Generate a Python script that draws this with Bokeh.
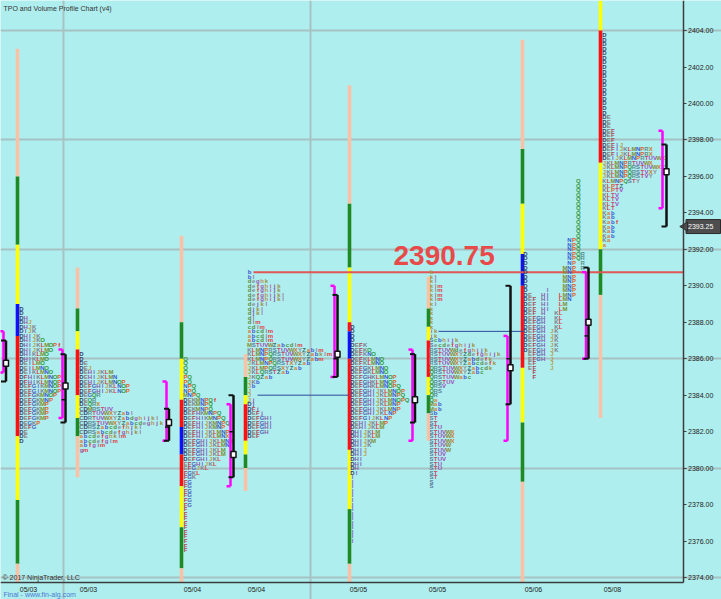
from bokeh.plotting import figure
from bokeh.models import Range1d, FixedTicker, Label, ColumnDataSource, PrintfTickFormatter, LinearAxis
from bokeh.core.properties import value
from bokeh.embed import file_html
from bokeh.resources import INLINE

# ---------------- axis data ----------------
y_ticks = [2374, 2376, 2378, 2380, 2382, 2384, 2386, 2388, 2390, 2392, 2394, 2396, 2398, 2400, 2402, 2404]
y_grid_ticks = [2374, 2380, 2386, 2392, 2398, 2404]
date_pos = [28, 88, 192, 256, 358, 437, 533, 612]
date_labels = ["05/03", "05/03", "05/04", "05/04", "05/05", "05/05", "05/06", "05/08"]
day_lines = [63, 310]
last_price = 2393.25
level_price = 2390.75
level_start = 253

# ---------------- session range bars ----------------
bar_x = [17, 77, 181, 245, 349, 428, 522, 600]
bar_levels = [
    [2403.0, 2396.0, 2392.25, 2389.0, 2387.25, 2381.75, 2378.25, 2374.75, 2373.5],
    [2391.0, 2388.75, 2387.5, 2386.5, 2384.0, 2382.75, 2381.75, 2379.5],
    [2392.75, 2388.0, 2386.0, 2383.75, 2382.25, 2380.75, 2379.0, 2376.75, 2374.5, 2373.5],
    [2386.25, 2385.0, 2384.0, 2383.5, 2381.5, 2380.75, 2380.0, 2378.75],
    [2401.0, 2394.5, 2391.0, 2388.0, 2387.5, 2386.0, 2381.0, 2377.75, 2374.75, 2373.5],
    [2390.5, 2388.75, 2387.75, 2387.0, 2385.0, 2384.0, 2383.0, 2381.5],
    [2403.5, 2397.5, 2394.5, 2391.75, 2390.0, 2385.5, 2382.5, 2379.25, 2373.5],
    [2405.75, 2404.0, 2396.75, 2392.0, 2389.5, 2382.75],
]
bar_codes = ["PGYBRYGP", "PGYRYGP", "PGYRBRYGP", "PGYRYGP", "PGYRBRYGP", "PGYRYGP", "PGYBRYGP", "YRYGP"]

# ---------------- value area / IB brackets and POC ----------------
va_x = [3, 62, 166, 230, 334, 412, 507, 585.5, 662]
va_hi = [2387.5, 2386.5, 2384.75, 2383.5, 2390.0, 2386.5, 2387.25, 2390.75, 2398.5]
va_lo = [2385.25, 2382.75, 2381.5, 2379.0, 2385.0, 2381.5, 2381.5, 2386.0, 2394.25]
ib_x = [5.5, 65, 168.5, 233, 337, 414.5, 510, 588, 666]
ib_hi = [2387.0, 2386.25, 2383.25, 2384.0, 2389.5, 2386.25, 2390.0, 2391.0, 2397.75]
ib_lo = [2384.75, 2382.5, 2381.5, 2379.5, 2385.0, 2382.5, 2383.5, 2386.0, 2393.25]
poc = [2385.75, 2384.5, 2382.5, 2380.75, 2386.25, 2383.75, 2385.5, 2388.0, 2396.25]
mark_session = [1, 2, 3, 4, 6, 7]
mark_price = [2383.75, 2382.25, 2382.0, 2386.0, 2386.0, 2387.25]

# naked POC lines
npoc_x0 = [257, 438]
npoc_x1 = [348, 523]
npoc_price = [2384.0, 2387.5]

# ---------------- TPO profiles (rows from top price downward) ----------------
tpo1_x, tpo1_top = 21, 2388.75
tpo1_rows = ["D", "D", "DH", "DHJ", "DHJK", "DIJK", "DHIJK", "DHIJKO", "DHIJKLMOPf", "DHIJKLMO",
             "DHIKLMO", "DHIKLMO", "DEILMO", "DEILMNO", "DEIKLMNO", "DFHIKLMNOP", "DFHIKLMNOP",
             "DEFGIKMNOP", "DEFGIKMNOP", "DEFGKMNOP", "DEFGKMNP", "DEFGKMP", "DEFGKMP", "DEFGKMP",
             "DEFGKMP", "DEGKP", "DEFG", "DE", "DE", "D"]

tpo2_x, tpo2_top = 81, 2386.25
tpo2_rows = ["D", "D", "DE", "DEJ", "DEHIJKLM", "DEHIJKLMN", "DEHIJKLMNOP", "DEFGHIJKLNOP",
             "DEFGHIJKLNOP", "DEGQR", "DEQR", "DEQRX", "CDMRSTUV", "CDRTUVWXYZabl",
             "CDRTUVWXYZabdghijkl", "CDRSTUVWXYZabcdeghjk", "CDRSZabcdefhjkl", "CDRSabcdefghjkl",
             "abcdefghklm", "abcdefglm", "abfgim", "gm"]

tpo3_x, tpo3_top = 185, 2386.0
tpo3_rows = ["Q", "Q", "Q", "Q", "PQ", "PQ", "NPQ", "NPQ", "MNPQ", "DEKMNPQf", "DEKMNPQ", "DEKMNPQ",
             "DEFHKMNPQ", "DEFHIKMNPQ", "DEFHIJKMNPQ", "DEFHIJKMNP", "DEFHIJKLMNP", "DEFHIJKLMNX",
             "DEFGHIJKLMNX", "DEFGHIJKLMN", "DEFGHIJKLM", "DEFGHIJKLM", "DEFGHIJKL", "EFGHIJKL",
             "EFGJKL", "FGKL", "FGK", "FG", "FG", "FG", "FG", "FG", "FG",
             "F", "F", "F", "F", "F", "F", "F", "F", "F", "F"]

tpo4_x, tpo4_top = 249, 2390.75
tpo4_rows = ["b", "bl", "deghk", "defghijk", "defghijk", "defghijkl", "defghijkl", "dejkl", "djkl",
             "djkl", "dl", "dlm", "cdlm", "abcdlm", "abcdlm", "abcdlm", "MSTUVWZabcdlm",
             "KLMNPRSTUVWXYZablm", "KLMNPQRSTUVWXYZabklm", "KLMNPQRSTUVWXYZabm", "JKLMNPQRSTXYZab",
             "JKLMPQRSXYZab", "JKLQRSTZab", "JKQZab", "JKb", "Jb", "J", "J", "Jj", "Dj", "DFj",
             "DEFj", "DEFGHI", "DEFGHI", "DEFGHI", "DEFGH", "DEF"]

tpo5_x, tpo5_top = 352, 2387.75
tpo5_rows = ["D", "D", "D", "D", "DEFK", "DEFKO", "DEFKNO", "DEFKLMNO", "DEFKLMNO", "DEFGKLMNO",
             "DEFGKLMNO", "DEFGHKLMNOP", "DEFGHKLMNOP", "DEFGHKLMNOPQ", "DEFGHIJKLMNOP",
             "DEFGHIJKLMNPQ", "DEFGHIJKLMNOPQ", "DEFGHIJKLMNP", "DEFGHIJKLMNP", "DEFGHIJKLNP",
             "DEFGIJKLNP", "DEHIJKLMP", "DEHIJKLM", "DHIJKLM", "DHIJKLM", "DHIJKM", "DHIJK", "DHIJ",
             "DHIJ", "DHI", "DHI", "DH", "DI", "I", "I", "I", "I", "I", "I", "I", "I", "I", "I", "I",
             "I", "I", "I", "I"]

tpo6_x, tpo6_top = 431, 2390.75
tpo6_rows = ["k", "kl", "kl", "klm", "klm", "klm", "klm", "kl", "k", "k", "k", "k", "k", "ik", "ik",
             "Scbhijk", "Secdefghijk", "RSTUVWdefghijk", "RSTUVWXYZdefghijk", "RSTUVWXYZabdefk",
             "RSTUVWXYZabcdefk", "QRSTUVWXYZabcdk", "QRSTUVWXYZabc", "QRSTUVWabc", "QRSTUV", "QRSV",
             "QRS", "QR", "Qa", "Mab", "Mab", "Sb", "ST", "ST", "STU", "STUVWX", "STUVWX", "STUVWX",
             "STUVW", "STUVW", "STUV", "STUV", "STU", "STU", "ST", "ST", "S", "S"]

# split profile: one column per period
tpo7_x = 525
tpo7_letters = ["D", "E", "F", "G", "H", "I", "J", "K", "L", "M", "N", "P", "Q", "R"]
tpo7_hi = [2391.75, 2389.5, 2389.25, 2388.25, 2389.5, 2389.75, 2387.5, 2388.5, 2389.5, 2391.0, 2392.5, 2392.5, 2395.75, 2391.75]
tpo7_lo = [2386.5, 2385.5, 2385.0, 2386.0, 2386.0, 2388.75, 2385.5, 2386.5, 2387.75, 2388.75, 2389.25, 2389.5, 2391.5, 2391.0]

tpo8_x, tpo8_top = 604, 2403.75
tpo8_rows = ["D", "D", "D", "D", "D", "D", "D", "D", "D", "D", "D", "D", "D", "D", "D", "D", "D", "D",
             "DE", "DE", "DE", "DEF", "DEF", "DEF", "DEFIJ", "DEFIJKLMNPRX", "DEFIJKLMNPRX",
             "DEIJKLMNPRTUVWX", "JKLMNPRTUVWX", "JKLMNPQRSTUVWXY", "JKLMNPQRSTVXY", "JKLMNPQRSTVY",
             "KLMNPQSTY", "KLPTZ", "KLPTV", "KLTV", "KLTV", "KLTV", "KLT", "Kab", "Kab", "Kabf", "Kab",
             "Kab", "Kab", "Ka", "a"]

# ---------------- styles / layout ----------------
TICK = 0.25
CELL = 4.2
CELL7 = 4.4
BG = "#AFEEEE"
PX = 18.23                 # pixels per price point
W, H = 721, 599
AXIS_X = 682.5             # right price axis position (x units = pixels)
y_hi = 2405.65
y_lo = y_hi - H / PX
AXIS_Y = y_hi - 582 / PX   # bottom time axis position
seg_colors = {"P": "#f9c2a6", "G": "#1f8a23", "Y": "#ffff00", "R": "#ff1010", "B": "#1010ff"}
letter_colors = {
    'A': '#5a6a7a', 'B': '#6a7a8a', 'C': '#5e6e7e', 'D': '#34406a', 'E': '#8c7a78', 'F': '#b0404e',
    'G': '#4a64b8', 'H': '#8a5aa8', 'I': '#7a6ac0', 'J': '#b8a050', 'K': '#7e8090', 'L': '#e03a3a',
    'M': '#7c9030', 'N': '#3a5ad8', 'O': '#2e9a3a', 'P': '#e0602a', 'Q': '#3a9a46', 'R': '#5e8e8e',
    'S': '#58789a', 'T': '#c84a6a', 'U': '#9050b0', 'V': '#a048c0', 'W': '#8a8a3a', 'X': '#d07a2a',
    'Y': '#8a8a8a', 'Z': '#3a7070',
    'a': '#d8803a', 'b': '#3a58d0', 'c': '#4a9a4a', 'd': '#5a8a3a', 'e': '#8a8a9a', 'f': '#e02a2a',
    'g': '#9a5ab0', 'h': '#c09050', 'i': '#b060a0', 'j': '#8a50b0', 'k': '#a09040', 'l': '#9a7a9a',
    'm': '#e04040',
}

p = figure(frame_width=W, frame_height=H, x_range=Range1d(0, W), y_range=Range1d(y_lo, y_hi),
           output_backend="svg", toolbar_location=None, x_axis_location=None, y_axis_location=None,
           min_border_left=0, min_border_top=0, min_border_right=0, min_border_bottom=0,
           background_fill_color=BG, border_fill_color=BG, outline_line_color=None)

# grids (stop at the axes)
p.ygrid.ticker = FixedTicker(ticks=y_grid_ticks)
p.ygrid.bounds = (0, AXIS_X)
p.xgrid.ticker = FixedTicker(ticks=day_lines)
p.xgrid.bounds = (AXIS_Y, y_hi)
p.grid.grid_line_color = "#a6c2c2"
p.grid.grid_line_width = 2

# price axis (right)
yax = LinearAxis(fixed_location=AXIS_X, ticker=FixedTicker(ticks=y_ticks),
                 formatter=PrintfTickFormatter(format="%.2f"), bounds=(AXIS_Y, y_hi))
yax.major_tick_out = 3
yax.major_tick_in = 0
yax.minor_tick_out = 0
yax.minor_tick_in = 0
yax.major_label_standoff = 2
yax.major_label_text_font_size = "7px"
yax.major_label_text_font = "Liberation Sans"
yax.major_label_text_color = "#222222"
yax.axis_line_color = "#3c3c3c"
yax.axis_line_width = 1.5
yax.major_tick_line_color = "#3c3c3c"
p.add_layout(yax, "right")

# time axis (bottom)
xax = LinearAxis(fixed_location=AXIS_Y, ticker=FixedTicker(ticks=date_pos), bounds=(0, AXIS_X))
xax.major_label_overrides = {pos: lab for pos, lab in zip(date_pos, date_labels)}
xax.major_tick_out = 0
xax.major_tick_in = 0
xax.minor_tick_out = 0
xax.minor_tick_in = 0
xax.major_label_standoff = 3
xax.major_label_text_font_size = "7px"
xax.major_label_text_font = "Liberation Sans"
xax.major_label_text_color = "#222222"
xax.axis_line_color = "#3c3c3c"
xax.axis_line_width = 1.5
p.add_layout(xax, "below")

# range bars (cut at the time axis)
qx, qb, qt, qc = [], [], [], []
for x, levels, codes in zip(bar_x, bar_levels, bar_codes):
    for i, c in enumerate(codes):
        qx.append(x)
        qt.append(levels[i])
        qb.append(max(levels[i + 1], AXIS_Y))
        qc.append(seg_colors[c])
p.vbar(x=qx, top=qt, bottom=qb, width=3.6, fill_color=qc, line_color=None)

# level line and naked POC lines
p.segment(x0=[level_start], y0=[level_price], x1=[AXIS_X], y1=[level_price], line_color="#e05555", line_width=2)
p.segment(x0=npoc_x0, y0=npoc_price, x1=npoc_x1, y1=npoc_price, line_color="#2a4a9a", line_width=1)

# TPO letters
tx, ty, tt, tc = [], [], [], []
def add_rows(x0, top, rows):
    for i, row in enumerate(rows):
        price = top - i * TICK
        for j, ch in enumerate(row):
            tx.append(x0 + j * CELL)
            ty.append(price)
            tt.append(ch)
            tc.append(letter_colors.get(ch, "#777777"))

for x0, top, rows in [(tpo1_x, tpo1_top, tpo1_rows), (tpo2_x, tpo2_top, tpo2_rows),
                      (tpo3_x, tpo3_top, tpo3_rows), (tpo4_x, tpo4_top, tpo4_rows),
                      (tpo5_x, tpo5_top, tpo5_rows), (tpo6_x, tpo6_top, tpo6_rows),
                      (tpo8_x, tpo8_top, tpo8_rows)]:
    add_rows(x0, top, rows)

for j, (ch, hi, lo) in enumerate(zip(tpo7_letters, tpo7_hi, tpo7_lo)):
    n = int(round((hi - lo) / TICK)) + 1
    for k in range(n):
        tx.append(tpo7_x + j * CELL7)
        ty.append(hi - k * TICK)
        tt.append(ch)
        tc.append(letter_colors.get(ch, "#777777"))

src = ColumnDataSource(dict(x=tx, y=ty, text=tt, color=tc))
p.text(x="x", y="y", text="text", text_color="color", source=src, text_font=value("Liberation Sans"),
       text_font_size="6px", text_font_style="bold", text_align="center", text_baseline="middle")

# value-area (magenta) brackets
p.segment(x0=va_x, y0=va_hi, x1=va_x, y1=va_lo, line_color="#ff00ff", line_width=2.5)
p.segment(x0=[x - 4 for x in va_x], y0=va_hi, x1=va_x, y1=va_hi, line_color="#ff00ff", line_width=2.5)
p.segment(x0=[x - 4 for x in va_x], y0=va_lo, x1=va_x, y1=va_lo, line_color="#ff00ff", line_width=2.5)
# black brackets
p.segment(x0=ib_x, y0=ib_hi, x1=ib_x, y1=ib_lo, line_color="#111111", line_width=2.5)
p.segment(x0=[x - 5 for x in ib_x], y0=ib_hi, x1=ib_x, y1=ib_hi, line_color="#111111", line_width=2)
p.segment(x0=[x - 5 for x in ib_x], y0=ib_lo, x1=ib_x, y1=ib_lo, line_color="#111111", line_width=2)
mx = [ib_x[s] for s in mark_session]
p.segment(x0=[x - 4 for x in mx], y0=mark_price, x1=mx, y1=mark_price, line_color="#111111", line_width=1.5)
p.rect(x=ib_x, y=poc, width=5, height=6, width_units="screen", height_units="screen",
       fill_color="white", line_color="#111111", line_width=1.5)

# last price tag on the price axis
tag_h = 7 / PX
p.quad(left=[AXIS_X + 3], right=[W - 1], bottom=[last_price - tag_h], top=[last_price + tag_h],
       fill_color="#4d4d4d", line_color="#2a2a2a", line_width=1)
p.scatter(x=[AXIS_X + 2], y=[last_price], marker="triangle", angle=1.5708, size=9,
          fill_color="#4d4d4d", line_color="#2a2a2a")
p.text(x=[AXIS_X + 5], y=[last_price], text=["%.2f" % last_price], text_color="white",
       text_font=value("Liberation Sans"), text_font_size="7px", text_align="left", text_baseline="middle")

# texts
p.add_layout(Label(x=3, y=y_hi - 8 / PX, text="TPO and Volume Profile Chart (v4)", text_font="Liberation Sans",
                   text_font_size="7px", text_color="#333333", text_baseline="middle"))
p.add_layout(Label(x=393, y=level_price + 0.9, text="2390.75", text_font="Liberation Sans", text_font_style="bold",
                   text_font_size="28px", text_color="#e84a4a", text_baseline="middle"))
p.add_layout(Label(x=2, y=2374.0, text="\u00a9 2017 NinjaTrader, LLC", text_font="Liberation Sans",
                   text_font_size="7px", text_color="#333333", text_baseline="middle"))
p.add_layout(Label(x=3, y=y_hi - 594 / PX, text="Final - www.fin-alg.com", text_font="Liberation Sans",
                   text_font_size="7px", text_color="#4a7ad0", text_baseline="middle"))

html = file_html(p, INLINE, title="TPO and Volume Profile Chart (v4)")
html = html.replace("<body>", '<body style="margin:0;overflow:hidden">', 1)
open("out.html", "w").write(html)
